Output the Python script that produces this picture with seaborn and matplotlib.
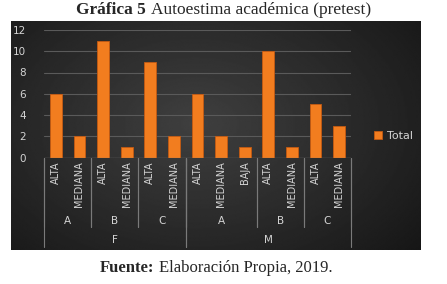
import matplotlib
matplotlib.use('Agg')
import matplotlib.pyplot as plt
import matplotlib.transforms as mtransforms
import seaborn as sns
import numpy as np
import pandas as pd


# data: sex / group / level -> count
sexes = ['F', 'F', 'F', 'F', 'F', 'F', 'M', 'M', 'M', 'M', 'M', 'M', 'M']
groups = ['A', 'A', 'B', 'B', 'C', 'C', 'A', 'A', 'A', 'B', 'B', 'C', 'C']
levels = ['ALTA', 'MEDIANA', 'ALTA', 'MEDIANA', 'ALTA', 'MEDIANA',
          'ALTA', 'MEDIANA', 'BAJA', 'ALTA', 'MEDIANA', 'ALTA', 'MEDIANA']
totals = [6, 2, 11, 1, 9, 2, 6, 2, 1, 10, 1, 5, 3]
yticks = [0, 2, 4, 6, 8, 10, 12]

W, H = 447, 284
ORANGE = '#F27D1F'
TXT = '#d4d4d4'
LINE = '#7a7a7a'


def fy(px):
    # pixel row (from top) -> figure fraction
    return 1 - px / H


def fx(px):
    return px / W


def two_part_text(fig, x_center, y, bold, rest, size):
    # bold prefix followed by regular text, centred as a whole
    renderer = fig.canvas.get_renderer()
    t1 = fig.text(0, y, bold, fontsize=size, fontweight='bold',
                  family='Liberation Serif', va='center', ha='left')
    t2 = fig.text(0, y, rest, fontsize=size,
                  family='Liberation Serif', va='center', ha='left')
    gap = 0.28 * size * 100 / 72 / W
    w1 = t1.get_window_extent(renderer).width / W
    w2 = t2.get_window_extent(renderer).width / W
    x0 = x_center - (w1 + gap + w2) / 2
    t1.set_x(x0)
    t2.set_x(x0 + w1 + gap)


df = pd.DataFrame({'sex': sexes, 'group': groups, 'level': levels,
                   'Total': totals})
df['pos'] = np.arange(len(df))

sns.set_style('dark')
fig = plt.figure(figsize=(W / 100, H / 100), dpi=100)
fig.patch.set_facecolor('white')

# dark panel with a soft radial gradient
bg = fig.add_axes([fx(11), fy(250), fx(410), (250 - 21) / H])
gx, gy = np.meshgrid(np.linspace(0, 1, 300), np.linspace(0, 1, 200))
r = np.sqrt(((gx - 0.45) / 0.75) ** 2 + ((gy - 0.45) / 0.9) ** 2)
shade = np.clip(0.25 - 0.17 * r, 0.07, 0.25)
bg.imshow(shade, cmap='gray', vmin=0, vmax=1, aspect='auto',
          extent=[0, 1, 0, 1], interpolation='bilinear')
bg.set_axis_off()

ax = fig.add_axes([fx(44), fy(157.5), fx(351 - 44), (157.5 - 30) / H])
ax.set_facecolor('none')
sns.barplot(data=df, x='pos', y='Total', color=ORANGE, width=0.5,
            edgecolor='#c45a12', linewidth=0.6, saturation=1,
            label='Total', ax=ax)
ax.set_xlim(-0.5, len(df) - 0.5)
ax.set_ylim(0, 12)
ax.set_yticks(yticks)
ax.yaxis.grid(True, color='#5a5a5a', linewidth=0.8)
ax.xaxis.grid(False)
ax.set_axisbelow(True)
for s in ax.spines.values():
    s.set_visible(False)
ax.tick_params(axis='y', length=0, labelsize=7.5, labelcolor=TXT, pad=13)
ax.set_xticks([])
ax.set_xlabel('')
ax.set_ylabel('')
ax.axhline(0, color=LINE, linewidth=0.9)

# hierarchical category axis
trans = mtransforms.blended_transform_factory(ax.transData, fig.transFigure)
for _, row in df.iterrows():
    ax.text(row['pos'], fy(161), row['level'], rotation=90, ha='center',
            va='top', fontsize=7, color=TXT, transform=trans)

sub = df.groupby(['sex', 'group'], sort=False)['pos'].agg(['min', 'max'])
for (sx, g), (lo, hi) in sub.iterrows():
    ax.text((lo + hi) / 2, fy(221), g, ha='center', va='center',
            fontsize=7.5, color=TXT, transform=trans)
    for xe in (lo - 0.5, hi + 0.5):
        ax.plot([xe, xe], [fy(157.5), fy(227)], color=LINE, linewidth=0.8,
                transform=trans, clip_on=False)

top = df.groupby('sex', sort=False)['pos'].agg(['min', 'max'])
for sx, (lo, hi) in top.iterrows():
    ax.text((lo + hi) / 2, fy(240), sx, ha='center', va='center',
            fontsize=7.5, color=TXT, transform=trans)
    for xe in (lo - 0.5, hi + 0.5):
        ax.plot([xe, xe], [fy(157.5), fy(247)], color=LINE, linewidth=0.8,
                transform=trans, clip_on=False)

leg = ax.legend(loc='center left', bbox_to_anchor=(fx(364), fy(136)),
                bbox_transform=fig.transFigure, frameon=False,
                fontsize=8, labelcolor=TXT, handlelength=0.7,
                handleheight=0.7, handletextpad=0.5)

two_part_text(fig, 0.5, fy(10), 'Gráfica 5', 'Autoestima académica (pretest)', 12.5)
two_part_text(fig, 0.483, fy(268), 'Fuente:', 'Elaboración Propia, 2019.', 12)

fig.savefig('out.png', dpi=100)
